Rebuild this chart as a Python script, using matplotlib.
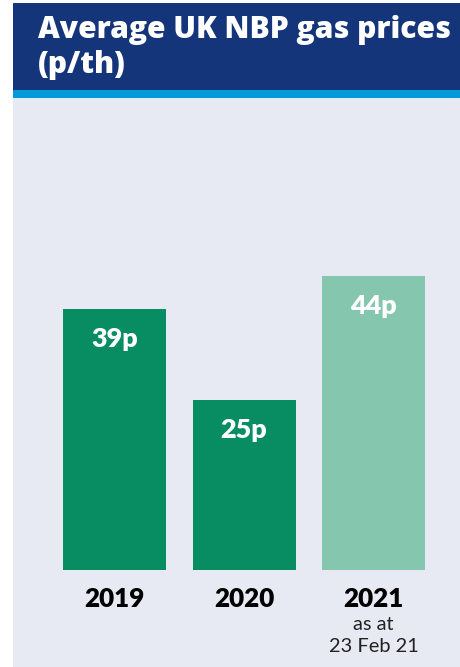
import matplotlib.pyplot as plt
from matplotlib.patches import Rectangle

# Data
years = ['2019', '2020', '2021']
prices = [39, 25.4, 44]
value_labels = ['39p', '25p', '44p']
bar_colors = ['#088C62', '#088C62', '#85C6AF']
title_lines = ['Average UK NBP gas prices', '(p/th)']
note_lines = ['as at', '23 Feb 21']

W, H = 460, 667
plt.rcParams['font.family'] = ['Lato', 'DejaVu Sans']

# dpi 72 so that points == pixels
fig = plt.figure(figsize=(W / 72, H / 72), dpi=72, facecolor='white')

def fy(py):
    return 1 - py / H

# header, stripe, background
fig.patches.append(Rectangle((13 / W, fy(90)), (W - 13) / W, 87 / H,
                             transform=fig.transFigure, color='#15357A', zorder=0))
fig.patches.append(Rectangle((13 / W, fy(97)), (W - 13) / W, 7 / H,
                             transform=fig.transFigure, color='#0099DA', zorder=0))

for k, line in enumerate(title_lines):
    fig.text(38 / W, fy(38 + 35 * k), line, color='white', fontsize=30,
             family=['Open Sans', 'DejaVu Sans'], fontweight=800,
             va='baseline', ha='left')

# bar axes
ax = fig.add_axes([13 / W, 0, (W - 13) / W, (H - 97) / H])
ax.set_facecolor('#E7EAF2')
px_per_unit = 6.69
spacing = 129.5
ax.set_xlim(-101.5 / spacing, 2 + (W - 373.5) / spacing)
ax.set_ylim(-(H - 570) / px_per_unit, (570 - 97) / px_per_unit)
for s in ax.spines.values():
    s.set_visible(False)
ax.set_xticks([])
ax.set_yticks([])

x = list(range(len(years)))
ax.bar(x, prices, width=103 / spacing, color=bar_colors)

for i, (v, lab) in enumerate(zip(prices, value_labels)):
    ax.annotate(lab, (i, v), xytext=(0, -38), textcoords='offset points',
                ha='center', va='baseline', color='white', fontsize=27,
                fontweight='heavy')
    ax.annotate(years[i], (i, 0), xytext=(0, -37), textcoords='offset points',
                ha='center', va='baseline', color='black', fontsize=26,
                fontweight='heavy')

ax.annotate(note_lines[0], (2, 0), xytext=(0, -60), textcoords='offset points',
            ha='center', va='baseline', color='#222222', fontsize=20)
ax.annotate(note_lines[1], (2, 0), xytext=(0, -82), textcoords='offset points',
            ha='center', va='baseline', color='#222222', fontsize=20)

fig.savefig('out.png', dpi=72, facecolor='white')
